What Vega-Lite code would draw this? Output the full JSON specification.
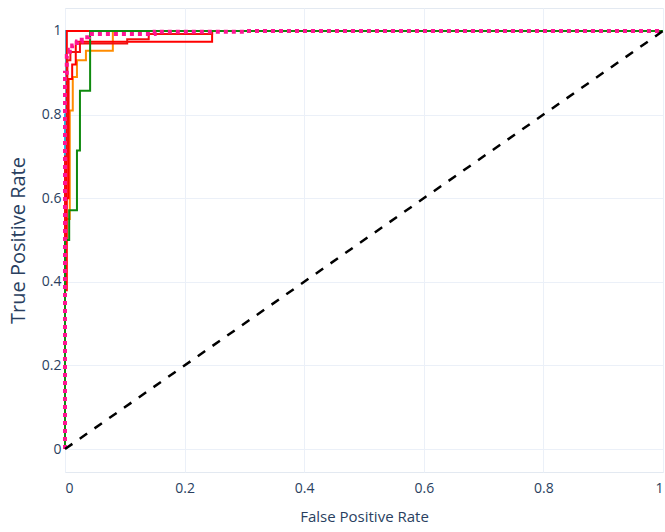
{
  "$schema": "https://vega.github.io/schema/vega-lite/v6.json",
  "width": 598,
  "height": 464,
  "autosize": {"type": "none"},
  "padding": {"left": 65, "top": 8, "right": 2, "bottom": 60},
  "background": "white",
  "config": {
    "view": {"stroke": "#e3e9f1", "strokeWidth": 1},
    "font": "Open Sans"
  },
  "datasets": {
    "curves": [
      {"series": "aqua", "i": 1, "fpr": 0, "tpr": 0},
      {"series": "aqua", "i": 2, "fpr": 0, "tpr": 0.8},
      {"series": "aqua", "i": 3, "fpr": 0.002, "tpr": 0.8},
      {"series": "aqua", "i": 4, "fpr": 0.002, "tpr": 1},
      {"series": "aqua", "i": 5, "fpr": 1, "tpr": 1},
      {"series": "orange", "i": 6, "fpr": 0, "tpr": 0},
      {"series": "orange", "i": 7, "fpr": 0, "tpr": 0.55},
      {"series": "orange", "i": 8, "fpr": 0.008, "tpr": 0.55},
      {"series": "orange", "i": 9, "fpr": 0.008, "tpr": 0.81},
      {"series": "orange", "i": 10, "fpr": 0.013, "tpr": 0.81},
      {"series": "orange", "i": 11, "fpr": 0.013, "tpr": 0.89},
      {"series": "orange", "i": 12, "fpr": 0.02, "tpr": 0.89},
      {"series": "orange", "i": 13, "fpr": 0.02, "tpr": 0.93},
      {"series": "orange", "i": 14, "fpr": 0.035, "tpr": 0.93},
      {"series": "orange", "i": 15, "fpr": 0.035, "tpr": 0.953},
      {"series": "orange", "i": 16, "fpr": 0.08, "tpr": 0.953},
      {"series": "orange", "i": 17, "fpr": 0.08, "tpr": 1},
      {"series": "orange", "i": 18, "fpr": 1, "tpr": 1},
      {"series": "redC", "i": 19, "fpr": 0, "tpr": 0},
      {"series": "redC", "i": 20, "fpr": 0, "tpr": 0.38},
      {"series": "redC", "i": 21, "fpr": 0.003, "tpr": 0.38},
      {"series": "redC", "i": 22, "fpr": 0.003, "tpr": 1},
      {"series": "redC", "i": 23, "fpr": 1, "tpr": 1},
      {"series": "redA", "i": 24, "fpr": 0, "tpr": 0},
      {"series": "redA", "i": 25, "fpr": 0, "tpr": 0.6},
      {"series": "redA", "i": 26, "fpr": 0.006, "tpr": 0.6},
      {"series": "redA", "i": 27, "fpr": 0.006, "tpr": 0.885},
      {"series": "redA", "i": 28, "fpr": 0.012, "tpr": 0.885},
      {"series": "redA", "i": 29, "fpr": 0.012, "tpr": 0.92},
      {"series": "redA", "i": 30, "fpr": 0.018, "tpr": 0.92},
      {"series": "redA", "i": 31, "fpr": 0.018, "tpr": 0.974},
      {"series": "redA", "i": 32, "fpr": 0.246, "tpr": 0.974},
      {"series": "redA", "i": 33, "fpr": 0.246, "tpr": 1},
      {"series": "redA", "i": 34, "fpr": 1, "tpr": 1},
      {"series": "redB", "i": 35, "fpr": 0, "tpr": 0},
      {"series": "redB", "i": 36, "fpr": 0, "tpr": 0.7},
      {"series": "redB", "i": 37, "fpr": 0.004, "tpr": 0.7},
      {"series": "redB", "i": 38, "fpr": 0.004, "tpr": 0.93},
      {"series": "redB", "i": 39, "fpr": 0.009, "tpr": 0.93},
      {"series": "redB", "i": 40, "fpr": 0.009, "tpr": 0.95},
      {"series": "redB", "i": 41, "fpr": 0.025, "tpr": 0.95},
      {"series": "redB", "i": 42, "fpr": 0.025, "tpr": 0.97},
      {"series": "redB", "i": 43, "fpr": 0.104, "tpr": 0.97},
      {"series": "redB", "i": 44, "fpr": 0.104, "tpr": 0.98},
      {"series": "redB", "i": 45, "fpr": 0.14, "tpr": 0.98},
      {"series": "redB", "i": 46, "fpr": 0.14, "tpr": 0.993},
      {"series": "redB", "i": 47, "fpr": 0.246, "tpr": 0.993},
      {"series": "redB", "i": 48, "fpr": 0.246, "tpr": 1},
      {"series": "redB", "i": 49, "fpr": 1, "tpr": 1},
      {"series": "green", "i": 50, "fpr": 0, "tpr": 0},
      {"series": "green", "i": 51, "fpr": 0, "tpr": 0.5},
      {"series": "green", "i": 52, "fpr": 0.007, "tpr": 0.5},
      {"series": "green", "i": 53, "fpr": 0.007, "tpr": 0.571},
      {"series": "green", "i": 54, "fpr": 0.02, "tpr": 0.571},
      {"series": "green", "i": 55, "fpr": 0.02, "tpr": 0.714},
      {"series": "green", "i": 56, "fpr": 0.025, "tpr": 0.714},
      {"series": "green", "i": 57, "fpr": 0.025, "tpr": 0.857},
      {"series": "green", "i": 58, "fpr": 0.042, "tpr": 0.857},
      {"series": "green", "i": 59, "fpr": 0.042, "tpr": 1},
      {"series": "green", "i": 60, "fpr": 1, "tpr": 1}
    ],
    "micro": [
      {"i": 1, "fpr": 0, "tpr": 0},
      {"i": 2, "fpr": 0, "tpr": 0.9},
      {"i": 3, "fpr": 0.003, "tpr": 0.9},
      {"i": 4, "fpr": 0.003, "tpr": 0.94},
      {"i": 5, "fpr": 0.008, "tpr": 0.94},
      {"i": 6, "fpr": 0.008, "tpr": 0.955},
      {"i": 7, "fpr": 0.012, "tpr": 0.955},
      {"i": 8, "fpr": 0.012, "tpr": 0.965},
      {"i": 9, "fpr": 0.02, "tpr": 0.965},
      {"i": 10, "fpr": 0.02, "tpr": 0.975},
      {"i": 11, "fpr": 0.028, "tpr": 0.975},
      {"i": 12, "fpr": 0.028, "tpr": 0.985},
      {"i": 13, "fpr": 0.04, "tpr": 0.985},
      {"i": 14, "fpr": 0.04, "tpr": 0.993},
      {"i": 15, "fpr": 0.15, "tpr": 0.993},
      {"i": 16, "fpr": 0.15, "tpr": 0.998},
      {"i": 17, "fpr": 0.3, "tpr": 0.998},
      {"i": 18, "fpr": 0.3, "tpr": 1},
      {"i": 19, "fpr": 1, "tpr": 1}
    ],
    "diag": [
      {"i": 1, "fpr": 0, "tpr": 0},
      {"i": 2, "fpr": 1, "tpr": 1}
    ]
  },
  "layer": [
    {
      "data": {"name": "curves"},
      "mark": {"type": "line", "strokeWidth": 2},
      "encoding": {
        "x": {
          "field": "fpr",
          "type": "quantitative",
          "scale": {"domain": [0, 1], "nice": false, "zero": false},
          "axis": {
            "values": [0, 0.2, 0.4, 0.6, 0.8, 1],
            "format": "~g",
            "title": "False Positive Rate",
            "grid": true,
            "gridColor": "#ebf0f8",
            "gridWidth": 1,
            "domain": false,
            "ticks": false,
            "labelPadding": 9,
            "labelFontSize": 14,
            "labelColor": "#2a3f5f",
            "labelFont": "Open Sans",
            "titleFont": "Open Sans",
            "titleFontSize": 15,
            "titleFontWeight": "normal",
            "titleColor": "#2a3f5f",
            "titlePadding": 14
          }
        },
        "y": {
          "field": "tpr",
          "type": "quantitative",
          "scale": {"domain": [-0.055, 1.055], "nice": false, "zero": false},
          "axis": {
            "values": [0, 0.2, 0.4, 0.6, 0.8, 1],
            "format": "~g",
            "title": "True Positive Rate",
            "grid": true,
            "gridColor": "#ebf0f8",
            "gridWidth": 1,
            "domain": false,
            "ticks": false,
            "labelPadding": 4,
            "labelFontSize": 14,
            "labelColor": "#2a3f5f",
            "labelFont": "Open Sans",
            "titleFont": "Open Sans",
            "titleFontSize": 20,
            "titleFontWeight": "normal",
            "titleColor": "#2a3f5f",
            "titlePadding": 13
          }
        },
        "color": {
          "field": "series",
          "type": "nominal",
          "scale": {
            "domain": ["aqua", "orange", "redC", "redA", "redB", "green"],
            "range": ["#1fb8e8", "#ff8c00", "#ff0000", "#ff0000", "#f01010", "#0f8a0f"]
          },
          "legend": null
        },
        "order": {"field": "i", "type": "quantitative"}
      }
    },
    {
      "data": {"name": "micro"},
      "mark": {"type": "line", "strokeWidth": 4, "strokeDash": [4, 4], "color": "#ff1493"},
      "encoding": {
        "x": {"field": "fpr", "type": "quantitative"},
        "y": {"field": "tpr", "type": "quantitative"},
        "order": {"field": "i", "type": "quantitative"}
      }
    },
    {
      "data": {"name": "diag"},
      "mark": {"type": "line", "strokeWidth": 2.5, "strokeDash": [9, 9], "color": "#000000"},
      "encoding": {
        "x": {"field": "fpr", "type": "quantitative"},
        "y": {"field": "tpr", "type": "quantitative"},
        "order": {"field": "i", "type": "quantitative"}
      }
    }
  ]
}
